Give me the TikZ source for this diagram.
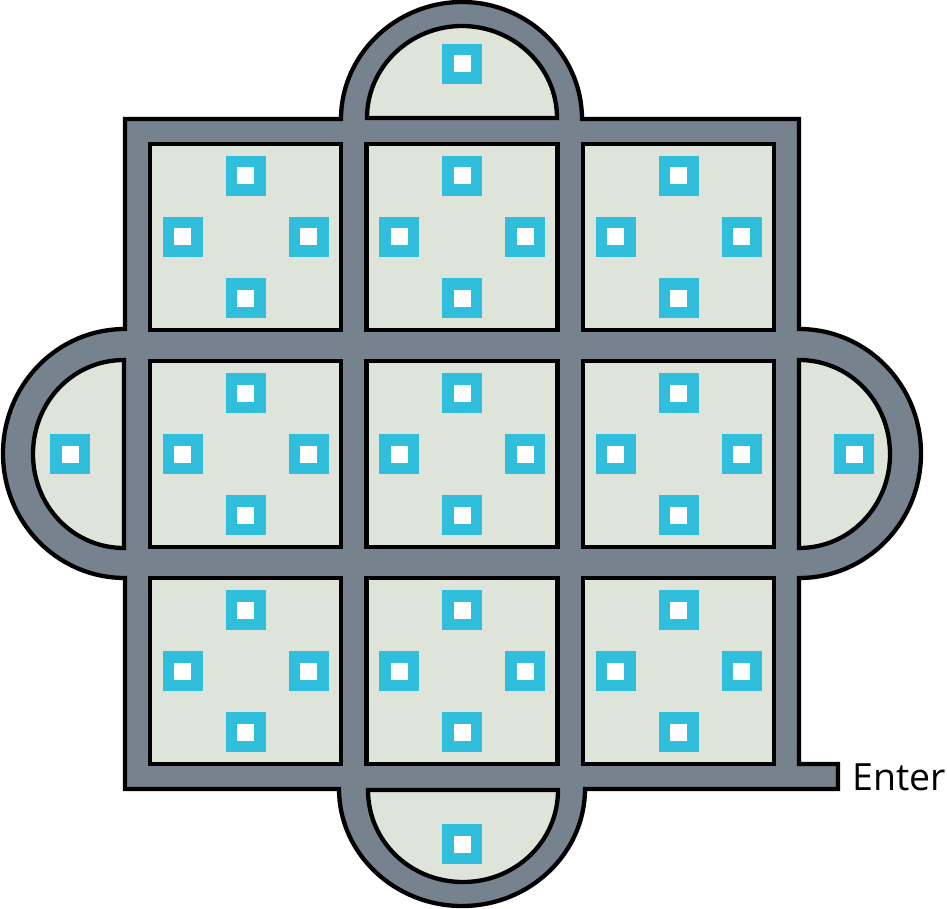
\documentclass[tikz,border=0pt]{standalone}
\usepackage{fontspec}
\setmainfont{Open Sans}
\definecolor{hallgray}{HTML}{76828E}
\definecolor{roomgreen}{HTML}{DFE4DB}
\definecolor{spotblue}{HTML}{2FBFDD}
\tikzset{
  wallline/.style={draw=black,line width=4.3pt},
  roombox/.style={wallline,fill=roomgreen,minimum width=191pt,minimum height=186pt,inner sep=0pt},
  spotbox/.style={draw=spotblue,fill=white,line width=11.5pt,minimum size=28.5pt,inner sep=0pt}
}

\begin{document}
\begin{tikzpicture}[x=1pt,y=-1pt]
\useasboundingbox (0,0) rectangle (947,909);

% corridors with the four round ends
\draw [wallline,fill=hallgray] (125,119) -- (341,119)
  .. controls (341,55) and (395.5,2) .. (462,2)
  .. controls (528.5,2) and (582,55) .. (582,119)
  -- (799,119) -- (799,329)
  .. controls (867,329) and (921,385) .. (921,453.5)
  .. controls (921,522) and (867,578) .. (799,578)
  -- (799,764) -- (838,764) -- (838,789) -- (585,789)
  .. controls (585,853) and (530,906) .. (462,906)
  .. controls (394,906) and (339,853) .. (339,789)
  -- (125,789) -- (125,578)
  .. controls (57,578) and (3,522) .. (3,453.5)
  .. controls (3,385) and (57,329) .. (125,329)
  -- cycle;

% half round rooms
\draw [wallline,fill=roomgreen] (367,118)
  .. controls (367,67) and (410,26) .. (462,26)
  .. controls (514,26) and (557,67) .. (557,118) -- cycle;
\draw [wallline,fill=roomgreen] (368,790)
  .. controls (368,841) and (410,882) .. (463,882)
  .. controls (516,882) and (558,841) .. (558,790) -- cycle;
\draw [wallline,fill=roomgreen] (124,360)
  .. controls (73,360) and (33,402) .. (33,454)
  .. controls (33,506) and (73,548) .. (124,548) -- cycle;
\draw [wallline,fill=roomgreen] (799,360)
  .. controls (850,360) and (890,402) .. (890,454)
  .. controls (890,506) and (850,548) .. (799,548) -- cycle;

% square rooms, each with four spots
\foreach \x/\c in {245.5/a,462/b,678.5/c}
  \foreach \y/\r in {237/t,454/m,671/b} {
    \node[roombox] (room\c\r) at (\x,\y) {};
    \node[spotbox] (spot\c\r n) at (\x,\y-61) {};
    \node[spotbox] (spot\c\r w) at (\x-63,\y) {};
    \node[spotbox] (spot\c\r e) at (\x+63,\y) {};
    \node[spotbox] (spot\c\r s) at (\x,\y+61) {};
  }

\node[spotbox] (spottop) at (462,64) {};
\node[spotbox] (spotbottom) at (462,844) {};
\node[spotbox] (spotleft) at (70,454) {};
\node[spotbox] (spotright) at (854,454) {};

\node[anchor=base west,inner sep=0pt,font=\fontsize{37.5}{37.5}\selectfont] at (852,790)
  (enter) {Enter};

\end{tikzpicture}
\end{document}
